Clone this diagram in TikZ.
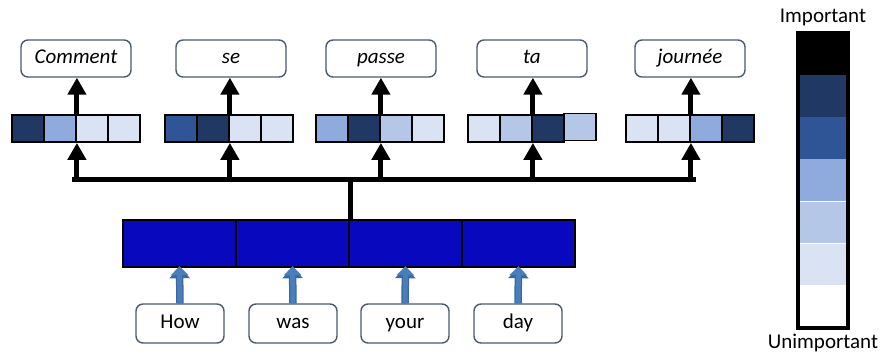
\documentclass[tikz,border=0pt]{standalone}
\usepackage{fontspec}
\setmainfont{Carlito}
\usetikzlibrary{arrows.meta}
\definecolor{navy}{HTML}{203864}
\definecolor{midblue}{HTML}{2F5597}
\definecolor{lblueA}{HTML}{8FAADC}
\definecolor{lblueB}{HTML}{B4C7E7}
\definecolor{lblueC}{HTML}{DAE3F3}
\definecolor{encblue}{HTML}{0808BE}
\definecolor{boxline}{HTML}{4A5A70}
\definecolor{inarrow}{HTML}{4A7EBB}
\definecolor{inarrowdark}{HTML}{3A68A0}
\begin{document}
\begin{tikzpicture}[x=1pt,y=-1pt,
  outbox/.style={draw=boxline,line width=1.4pt,rounded corners=7pt,fill=white,
    minimum width=110pt,minimum height=37pt,inner sep=0pt,text height=14pt,text depth=4pt,
    font=\fontsize{21}{24}\selectfont\itshape},
  inbox/.style={draw=boxline,line width=1.4pt,rounded corners=7pt,fill=white,
    minimum width=88pt,minimum height=39pt,inner sep=0pt,text height=14pt,text depth=4pt,
    font=\fontsize{21}{24}\selectfont},
  cell/.style={draw=black,line width=1.8pt,minimum width=32pt,minimum height=27pt,inner sep=0pt},
  enccell/.style={draw=black,line width=2.4pt,fill=encblue,minimum width=113pt,minimum height=47pt,inner sep=0pt},
  barcell/.style={minimum width=50pt,minimum height=41.7pt,inner sep=0pt},
  bus/.style={line width=5pt},
  busarrow/.style={line width=5pt,-{Triangle[width=18pt,length=17pt]}},
  blueArrowOut/.style={draw=inarrowdark,line width=7.5pt,-{Triangle[width=20pt,length=11pt]}},
  blueArrow/.style={draw=inarrow,line width=5pt,-{Triangle[width=17pt,length=9pt]}},
  lbl/.style={font=\fontsize{21}{24}\selectfont,inner sep=0pt}]
\useasboundingbox (0,0) rectangle (880,354);

% output word boxes
\node[outbox] (w1) at (76,58.5) {Comment};
\node[outbox] (w2) at (231,58.5) {se};
\node[outbox] (w3) at (381,58.5) {passe};
\node[outbox] (w4) at (532,58.5) {ta};
\node[outbox] (w5) at (690,58.5) {journée};

% attention vectors
\foreach \k/\cx/\ca/\cb/\cc/\cd in {1/76/navy/lblueA/lblueC/lblueC,
  2/229/midblue/navy/lblueC/lblueC,
  3/380/lblueA/navy/lblueB/lblueC,
  5/690/lblueC/lblueC/lblueA/navy}{
  \node[cell,fill=\ca] (v\k-1) at (\cx-48,128.5) {};
  \node[cell,fill=\cb] (v\k-2) at (\cx-16,128.5) {};
  \node[cell,fill=\cc] (v\k-3) at (\cx+16,128.5) {};
  \node[cell,fill=\cd] (v\k-4) at (\cx+48,128.5) {};
}
\node[cell,fill=lblueC] (v4-1) at (484,128.5) {};
\node[cell,fill=lblueB] (v4-2) at (516,128.5) {};
\node[cell,fill=navy] (v4-3) at (548,128.5) {};
\node[cell,fill=lblueB] (v4-4) at (580,127) {};

% arrows vector -> word
\foreach \k in {1,...,5}{
  \draw[busarrow] (v\k-2.north east) -- (v\k-2.north east |- w\k.south);
}

% encoder
\node[enccell] (e1) at (179.5,243.5) {};
\node[enccell] (e2) at (292.5,243.5) {};
\node[enccell] (e3) at (405.5,243.5) {};
\node[enccell] (e4) at (518.5,243.5) {};

% bus
\coordinate (b1) at (v1-2.south east |- 0,179);
\coordinate (b2) at (v2-2.south east |- 0,179);
\coordinate (b3) at (v3-2.south east |- 0,179);
\coordinate (b4) at (v4-2.south east |- 0,179);
\coordinate (b5) at (v5-2.south east |- 0,179);
\coordinate (bm) at (e2.north east |- 0,179);
\draw[bus,line cap=rect] ([xshift=-2.5pt]b1) -- ([xshift=2.5pt]b5);
\draw[bus] (e2.north east) -- ([yshift=-2.5pt]bm);
\foreach \k in {1,...,5}{
  \draw[busarrow] ([yshift=-2.5pt]b\k) -- (v\k-2.south east);
}

% input words
\node[inbox] (i1) at (180,323.5) {How};
\node[inbox] (i2) at (293,323.5) {was};
\node[inbox] (i3) at (405,323.5) {your};
\node[inbox] (i4) at (518,323.5) {day};
\foreach \k in {1,...,4}{
  \draw[blueArrowOut] (i\k.north) -- ([yshift=1pt]e\k.south);
  \draw[blueArrow] ([yshift=-0.5pt]i\k.north) -- ([yshift=2pt]e\k.south);
}

% colour bar
\node[barcell,fill=black] (cb1) at (823,54) {};
\node[barcell,fill=navy,anchor=north] (cb2) at (cb1.south) {};
\node[barcell,fill=midblue,anchor=north] (cb3) at (cb2.south) {};
\node[barcell,fill=lblueA,anchor=north] (cb4) at (cb3.south) {};
\node[barcell,fill=lblueB,anchor=north] (cb5) at (cb4.south) {};
\node[barcell,fill=lblueC,anchor=north] (cb6) at (cb5.south) {};
\node[barcell,fill=white,anchor=north] (cb7) at (cb6.south) {};
\draw[line width=4pt] (cb1.north west) rectangle (cb7.south east);
\node[lbl] (imp) at (823,17) {Important};
\node[lbl] (unimp) at (823,343) {Unimportant};
\end{tikzpicture}
\end{document}
